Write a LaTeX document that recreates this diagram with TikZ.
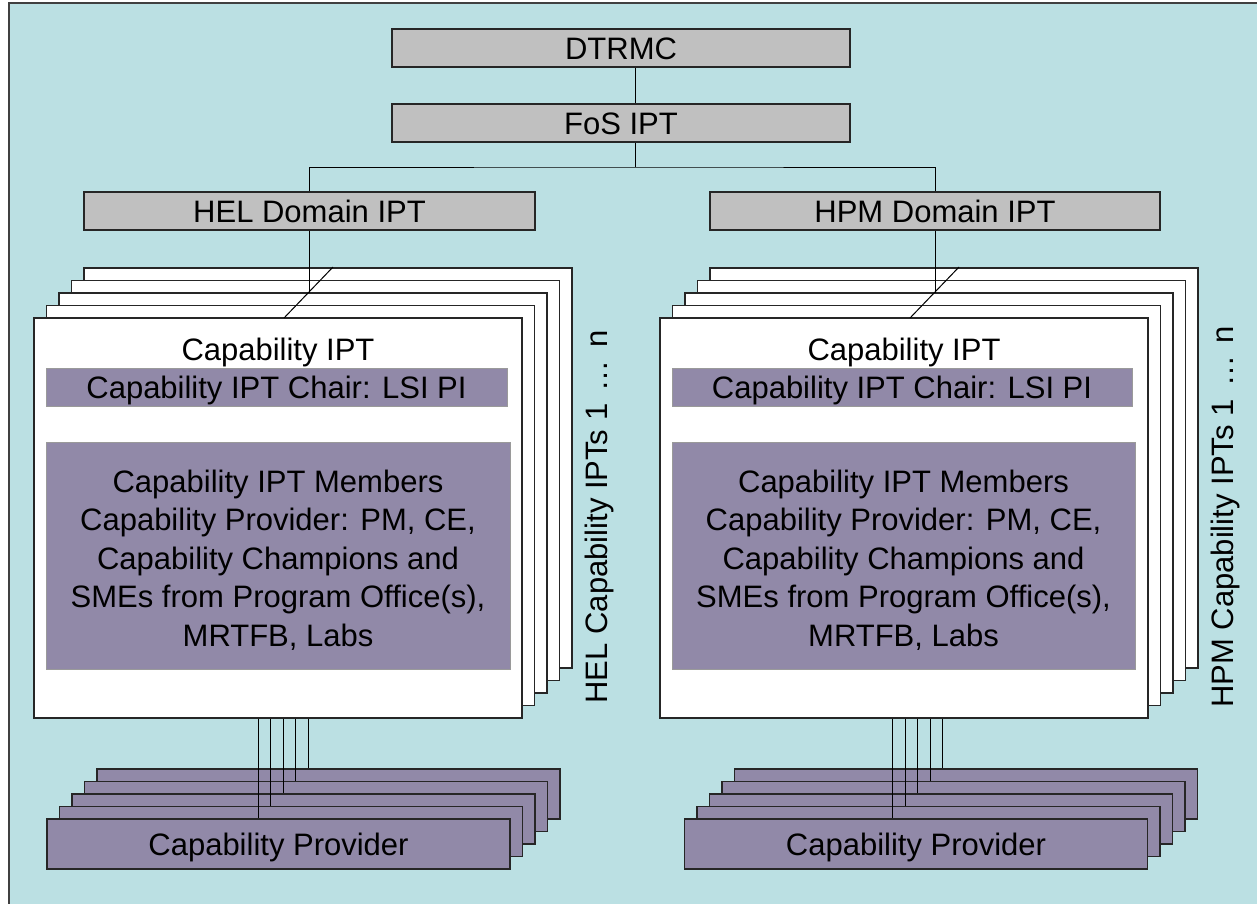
\documentclass[tikz,border=0pt]{standalone}
\usepackage{fontspec}
\setmainfont{Liberation Sans}
\usetikzlibrary{calc}
\definecolor{bgteal}{HTML}{BBE0E3}
\definecolor{boxgray}{HTML}{C0C0C0}
\definecolor{lavender}{HTML}{9189A8}
\definecolor{edgegray}{HTML}{9A9A9A}
\tikzset{
  every node/.style={font=\fontsize{31pt}{38.5pt}\selectfont, inner sep=0pt},
  oneline/.style={text height=22.2pt, text depth=0pt},
  graybox/.style={oneline, draw=black!85, line width=1.2pt, fill=boxgray, minimum height=38pt},
  sheet/.style={draw=black!85, line width=1.2pt, fill=white, minimum width=488pt, minimum height=400pt},
  bar/.style={draw=edgegray, line width=1pt, fill=lavender},
  provider/.style={oneline, draw=black!85, line width=1.2pt, fill=lavender, minimum width=463pt, minimum height=50pt},
  link/.style={draw=black, line width=1pt},
}
\newcommand{\membertext}{Capability IPT Members\\Capability Provider: PM, CE,\\Capability Champions and\\SMEs from Program Office(s),\\MRTFB, Labs}
\newcommand{\stacklabel}[1]{#1 Capability IPTs 1\hspace{0.4em}\dots\hspace{0.4em}n}
\begin{document}
\begin{tikzpicture}[x=1pt,y=-1pt]
\useasboundingbox (0,0) rectangle (1257,903);
% backdrop
\fill[bgteal] (9,3) rectangle (1265,910);
\draw[black!75, line width=1.2pt] (1265,3) -- (9,3) -- (9,910);

% top of the hierarchy
\node[graybox, minimum width=458pt] (dtrmc) at (621,48) {DTRMC};
\node[graybox, minimum width=458pt] (fos) at (621,123) {FoS IPT};
\node[graybox, minimum width=451pt] (heldom) at (309.5,211) {HEL Domain IPT};
\node[graybox, minimum width=450pt] (hpmdom) at (935,211) {HPM Domain IPT};

\coordinate (bus) at (635,167);
\draw[link] (dtrmc.south -| bus) -- (fos.north -| bus);
\draw[link] (fos.south -| bus) -- (bus);
\draw[link] (heldom.north) |- (bus) -| (hpmdom.north);

% ---------------- HEL side ----------------
\foreach \k in {4,3,2,1,0} {
  \node[sheet] (helsheet\k) at ({278+12.5*\k},{518-12.5*\k}) {};
}
\node[oneline] (helcap) at (278,349.5) {Capability IPT};
\node[bar, oneline, minimum width=461pt, minimum height=38pt] (helchair) at (276.5,387) {Capability IPT Chair: LSI PI};
\node[bar, minimum width=464pt, minimum height=227pt] (helmembers) at (278,555.5) {};
\node[align=center] (helmemberstext) at ([yshift=-4.5pt]helmembers.center) {\membertext};

\coordinate (heldiagA) at (333,267);
\coordinate (heldiagB) at (284,318);
\coordinate (helmid) at ($(heldiagA)!0.5!(heldiagB)$);
\draw[link] (heldiagA) -- (heldiagB);
\draw[link] (heldom.south) -- (heldom.south |- helmid);

\node[oneline, rotate=90] (hellabel) at (596,517) {\stacklabel{HEL}};

\foreach \k in {4,3,2,1} {
  \node[provider] (helcp\k) at ({278.5+12.5*\k},{844-12.5*\k}) {};
}
\node[provider] (helcp0) at (278.5,844) {Capability Provider};
\foreach \k in {0,1,2,3,4} {
  \coordinate (hl\k) at ([xshift=212pt]helcp\k.north west);
  \draw[link] (hl\k |- helsheet0.south) -- (hl\k);
}

% ---------------- HPM side ----------------
\foreach \k in {4,3,2,1,0} {
  \node[sheet] (hpmsheet\k) at ({904+12.5*\k},{518-12.5*\k}) {};
}
\node[oneline] (hpmcap) at (904,349.5) {Capability IPT};
\node[bar, oneline, minimum width=460pt, minimum height=38pt] (hpmchair) at (902,387) {Capability IPT Chair: LSI PI};
\node[bar, minimum width=463pt, minimum height=227pt] (hpmmembers) at (903.5,555.5) {};
\node[align=center] (hpmmemberstext) at ([yshift=-4.5pt]hpmmembers.center) {\membertext};

\coordinate (hpmdiagA) at (959,267);
\coordinate (hpmdiagB) at (910,318);
\coordinate (hpmmid) at ($(hpmdiagA)!0.5!(hpmdiagB)$);
\draw[link] (hpmdiagA) -- (hpmdiagB);
\draw[link] (hpmdom.south) -- (hpmdom.south |- hpmmid);

\node[oneline, rotate=90] (hpmlabel) at (1222,517) {\stacklabel{HPM}};

\foreach \k in {4,3,2,1} {
  \node[provider] (hpmcp\k) at ({916+12.5*\k},{844-12.5*\k}) {};
}
\node[provider] (hpmcp0) at (916,844) {Capability Provider};
\foreach \k in {0,1,2,3,4} {
  \coordinate (pl\k) at ([xshift=209pt]hpmcp\k.north west);
  \draw[link] (pl\k |- hpmsheet0.south) -- (pl\k);
}
\end{tikzpicture}
\end{document}
